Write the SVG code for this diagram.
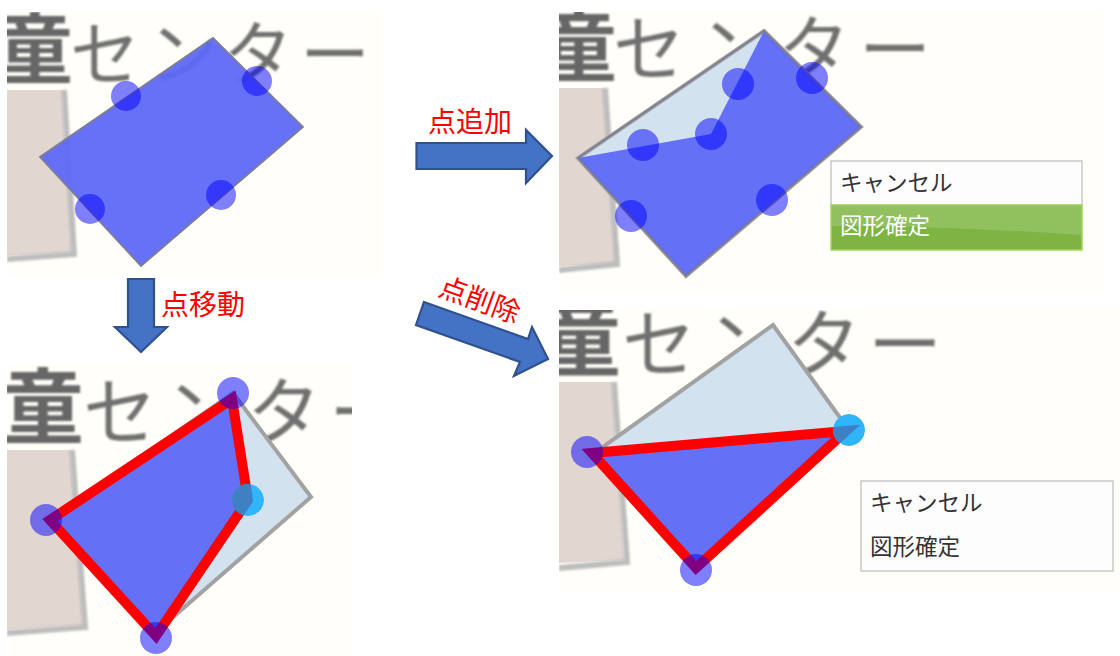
<svg xmlns="http://www.w3.org/2000/svg" width="1120" height="656" viewBox="0 0 1120 656">
<style>
.jp{font-family:"Noto Sans CJK JP","Noto Sans",sans-serif}
.bk{fill:#6f6f6f;font-weight:400}
.bd{fill:#666;font-weight:700}
.bg{fill:#fffef9}
.bx{fill:#e2d6d0}
.sh{fill:none;stroke:#bdbdbd;stroke-width:6}
.gp{fill:#d2e2ef;stroke:#a2a2a2;stroke-width:4;stroke-linejoin:miter}
.bp{fill:#5c68f6;fill-opacity:.94}
.bo{fill:none;stroke:#7d7d95;stroke-width:1.800}
.c{fill:#0000ff;fill-opacity:.5}
.ca{fill:#30b5fb}
.red{fill:#5c68f6;fill-opacity:.94;stroke:#f00;stroke-width:10}
.st{fill:#3f7fc4;stroke:#3f7fc4;stroke-width:10}
.lab{font-size:28px;fill:#f00}
.ar{fill:#4472c4;stroke:#2f528f;stroke-width:2.200}
.m{font-size:22.500px;fill:#333}
</style>
<defs>
<filter id="b" x="-10%" y="-10%" width="120%" height="120%"><feGaussianBlur stdDeviation="1"/></filter>
<clipPath id="p1"><rect x="7" y="12" width="374" height="264"/></clipPath>
<clipPath id="p2"><rect x="559" y="12" width="544" height="279"/></clipPath>
<clipPath id="p3"><rect x="7" y="365" width="345" height="291"/></clipPath>
<clipPath id="p4"><rect x="559" y="310" width="561" height="281"/></clipPath>
<clipPath id="c3"><circle cx="248" cy="500" r="16"/></clipPath>
<clipPath id="c4"><circle cx="849" cy="430" r="16"/></clipPath>
</defs>
<g id="panel1" clip-path="url(#p1)">
<rect class="bg" x="7" y="12" width="374" height="264"/>
<polygon class="bx" points="0,90 62,90 72,252 0,256"/>
<path class="sh" d="M64 90L74 254L7 259" filter="url(#b)"/>
<text class="jp bd" font-size="76" x="-3" y="77" filter="url(#b)">童</text>
<text class="jp bk" font-size="70" x="70 148 223 300" y="80" filter="url(#b)">センター</text>
<polygon class="bp" points="213,38 303,127 141,266 40,157"/>
<polygon class="bo" points="213,38 303,127 141,266 40,157"/>
<circle class="c" cx="126" cy="96" r="15"/><circle class="c" cx="257" cy="81" r="15"/><circle class="c" cx="221" cy="195" r="15"/><circle class="c" cx="90" cy="209" r="15"/>
</g>
<g id="panel2" clip-path="url(#p2)">
<rect class="bg" x="559" y="12" width="544" height="279"/>
<polygon class="bx" points="559,88 603,88 615,263 559,266"/>
<path class="sh" d="M605 88L617 264L559 270" filter="url(#b)"/>
<text class="jp bd" font-size="76" x="541" y="75" filter="url(#b)">童</text>
<text class="jp bk" font-size="72" x="613 700 778 859" y="75" filter="url(#b)">センター</text>
<polygon class="gp" points="764,31 861,127 686,276 578,158"/>
<polygon class="bp" points="764,31 861,127 686,276 578,158 711,134"/>
<polygon class="bo" points="764,31 861,127 686,276 578,158"/>
<circle class="c" cx="738" cy="84" r="16"/><circle class="c" cx="812" cy="78" r="16"/><circle class="c" cx="772" cy="200" r="16"/><circle class="c" cx="631" cy="216" r="16"/><circle class="c" cx="711" cy="134" r="16"/><circle class="c" cx="643" cy="145" r="16"/>
</g>
<g id="menu2">
<rect x="831" y="161" width="251" height="44" fill="#fdfdfd" stroke="#c8c8c8" stroke-width="1.500"/>
<rect x="831" y="205" width="251" height="45" fill="#7db442" stroke="#a9d65e" stroke-width="1.500"/>
<path d="M832 206H1081V235Q950 226 832 226Z" fill="#91c05f"/>
<text class="jp m" x="840" y="191">キャンセル</text>
<text class="jp m" x="840" y="234" style="fill:#fff">図形確定</text>
</g>
<g id="panel3" clip-path="url(#p3)">
<rect class="bg" x="7" y="365" width="345" height="291"/>
<polygon class="bx" points="0,450 70,450 83,625 0,630"/>
<path class="sh" d="M72 450L85 627L7 633" filter="url(#b)"/>
<text class="jp bd" font-size="82" x="2" y="437" filter="url(#b)">童</text>
<text class="jp bk" font-size="74" x="83 165 247 329" y="439" filter="url(#b)">センター</text>
<polygon class="gp" points="233,393 311,497 156,632 50,520"/>
<polygon class="red" points="232,399 248,500 156,636 50,520"/>
<g clip-path="url(#c3)"><circle class="ca" cx="248" cy="500" r="16"/><polygon class="st" points="232,399 248,500 156,636 50,520"/></g>
<circle class="c" cx="233" cy="393" r="16"/><circle class="c" cx="156" cy="638" r="16"/><circle class="c" cx="46" cy="520" r="16"/>
</g>
<g id="panel4" clip-path="url(#p4)">
<rect class="bg" x="559" y="310" width="561" height="281"/>
<polygon class="bx" points="559,382 612,382 624,560 559,563"/>
<path class="sh" d="M614 382L627 562L559 568" filter="url(#b)"/>
<text class="jp bd" font-size="80" x="541" y="369" filter="url(#b)">童</text>
<text class="jp bk" font-size="74" x="622 707 787 868" y="371" filter="url(#b)">センター</text>
<polygon class="gp" points="773,325 849,430 696,570 593,454"/>
<polygon class="red" points="592,453 846,431 696,568"/>
<g clip-path="url(#c4)"><circle class="ca" cx="849" cy="430" r="16"/><polygon class="st" points="592,453 846,431 696,568"/></g>
<circle class="c" cx="587" cy="452" r="16"/><circle class="c" cx="696" cy="570" r="16"/>
</g>
<g id="menu4">
<rect x="861" y="481" width="252" height="90" fill="#fdfdfd" stroke="#c8c8c8" stroke-width="1.500"/>
<text class="jp m" x="870" y="511">キャンセル</text>
<text class="jp m" x="870" y="555">図形確定</text>
</g>
<g id="connectors">
<path class="ar" d="M416.500 143H526V130L552 156L526 183V169H416.500Z"/>
<path class="ar" d="M128 279H154V327H167L141 352L115 327H128Z"/>
<path class="ar" d="M424 302L528 339L532 327L548 359L514 376L520 362L416 325Z"/>
</g>
<g id="labels">
<text class="jp lab" x="428" y="132">点追加</text>
<text class="jp lab" x="161" y="315">点移動</text>
<text class="jp lab" transform="translate(437 295) rotate(20)">点削除</text>
</g>
</svg>
